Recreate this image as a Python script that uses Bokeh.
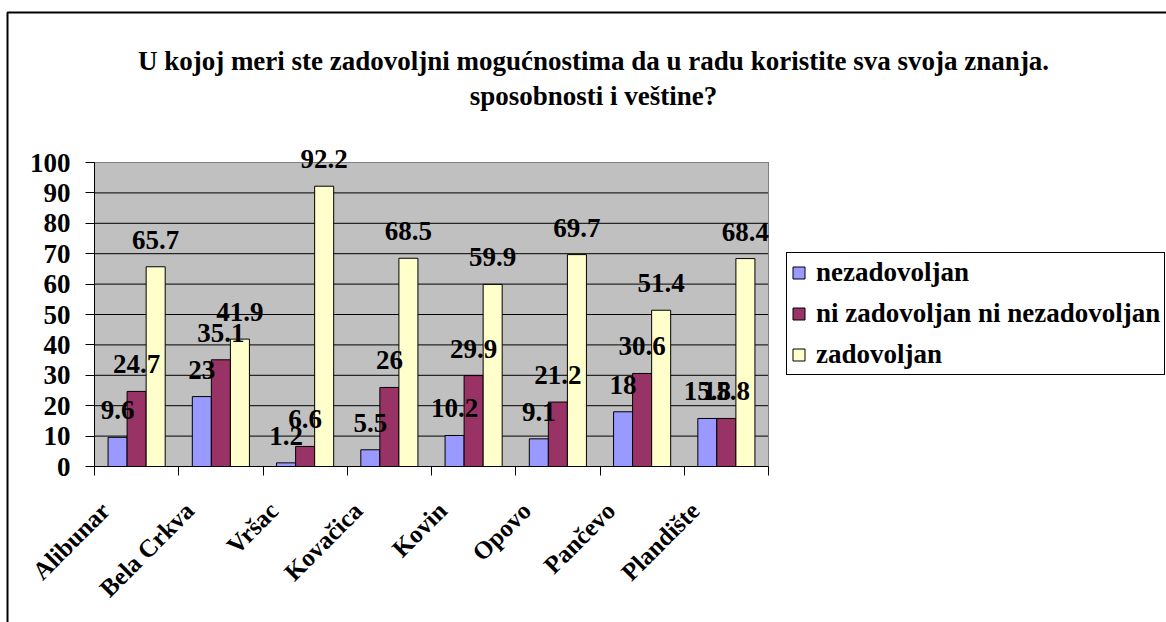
from math import pi
from bokeh.plotting import figure
from bokeh.models import (ColumnDataSource, LabelSet, Label, Legend, LegendItem,
                          FixedTicker, Range1d, BoxAnnotation)
from bokeh.embed import file_html
from bokeh.resources import INLINE

categories = ["Alibunar", "Bela Crkva", "Vršac", "Kovačica", "Kovin", "Opovo", "Pančevo", "Plandište"]
series_names = ["nezadovoljan", "ni zadovoljan ni nezadovoljan", "zadovoljan"]
nezadovoljan = [9.6, 23, 1.2, 5.5, 10.2, 9.1, 18, 15.8]
ni_ni = [24.7, 35.1, 6.6, 26, 29.9, 21.2, 30.6, 15.8]
zadovoljan = [65.7, 41.9, 92.2, 68.5, 59.9, 69.7, 51.4, 68.4]
y_ticks = [0, 10, 20, 30, 40, 50, 60, 70, 80, 90, 100]
title_lines = ["U kojoj meri ste zadovoljni mogućnostima da u radu koristite sva svoja znanja.",
               "sposobnosti i veštine?"]

colors = ["#9999FF", "#993366", "#FFFFCC"]
offsets = [-0.226, 0.0, 0.226]
bar_w = 0.226
FONT = "Liberation Serif"
FS = "27px"

W, H = 1166, 622
# pixel geometry of the plot area (gray box) in canvas pixels
PX_L, PX_R, PX_T, PX_B = 94, 768, 162, 466
n = len(categories)
sx = (PX_R - PX_L) / n          # px per category
sy = (PX_B - PX_T) / 100.0      # px per unit


def dx(px):
    return (px - PX_L) / sx


def dy(py):
    return (PX_B - py) / sy


p = figure(width=W, height=H, output_backend="svg", toolbar_location=None,
           x_range=Range1d(dx(0), dx(W)), y_range=Range1d(dy(H), dy(0)),
           min_border=0, min_border_left=0, min_border_right=0,
           min_border_top=0, min_border_bottom=0)
p.background_fill_color = "white"
p.border_fill_color = "white"
p.outline_line_color = None
p.xgrid.visible = False
p.ygrid.visible = False

# gray plot area
p.quad(left=[0], right=[n], bottom=[0], top=[100], fill_color="#C0C0C0", line_color=None)
# horizontal gridlines
p.segment(x0=[0] * len(y_ticks), x1=[n] * len(y_ticks), y0=y_ticks, y1=y_ticks,
          line_color="black", line_width=1)

centers = [i + 0.5 for i in range(n)]
items = []
for k, vals in enumerate([nezadovoljan, ni_ni, zadovoljan]):
    src = ColumnDataSource(dict(x=[c + offsets[k] for c in centers], top=vals,
                                label=[f"{v:g}" for v in vals]))
    r = p.vbar(x="x", top="top", width=bar_w, bottom=0, source=src,
               fill_color=colors[k], line_color="black", line_width=1)
    items.append(LegendItem(label=series_names[k], renderers=[r]))
    p.add_layout(LabelSet(x="x", y="top", text="label", source=src, y_offset=18,
                          text_align="center", text_baseline="alphabetic",
                          text_font=FONT, text_font_style="bold", text_font_size=FS,
                          text_color="black"))

# gray outline of plot area (top / right)
p.quad(left=[0], right=[n], bottom=[0], top=[100], fill_color=None,
       line_color="#808080", line_width=1)

# axes drawn at fixed data locations
p.yaxis.fixed_location = 0
p.yaxis.bounds = (0, 100)
p.yaxis.ticker = FixedTicker(ticks=y_ticks)
p.yaxis.major_tick_in = 0
p.yaxis.major_tick_out = 9
p.yaxis.minor_tick_line_color = None
p.yaxis.axis_line_color = "black"
p.yaxis.major_label_standoff = 15
p.yaxis.major_label_text_font = FONT
p.yaxis.major_label_text_font_style = "bold"
p.yaxis.major_label_text_font_size = FS
p.yaxis.major_label_text_color = "black"

# rotated category labels sit a little left of each group's centre
label_pos = [c - 0.37 for c in centers]
p.xaxis.fixed_location = 0
p.xaxis.bounds = (0, n)
p.xaxis.ticker = FixedTicker(ticks=label_pos, minor_ticks=list(range(n + 1)))
p.xaxis.major_label_overrides = {c: name for c, name in zip(label_pos, categories)}
p.xaxis.major_tick_line_color = None
p.xaxis.minor_tick_in = 0
p.xaxis.minor_tick_out = 9
p.xaxis.minor_tick_line_color = "black"
p.xaxis.axis_line_color = "black"
p.xaxis.major_label_orientation = pi / 4
p.xaxis.major_label_standoff = 31
p.xaxis.major_label_text_font = FONT
p.xaxis.major_label_text_font_style = "bold"
p.xaxis.major_label_text_font_size = "25px"
p.xaxis.major_label_text_color = "black"

legend = Legend(items=items, location=(786, H - 375))
legend.border_line_color = "black"
legend.border_line_alpha = 1
legend.border_line_width = 1
legend.background_fill_color = "white"
legend.background_fill_alpha = 1
legend.label_text_font = FONT
legend.label_text_font_style = "bold"
legend.label_text_font_size = FS
legend.label_text_color = "black"
legend.glyph_width = 15
legend.glyph_height = 15
legend.label_standoff = 10
legend.padding = 4
legend.spacing = 10
legend.margin = 0
p.add_layout(legend, "center")

# title (two centered lines)
for line, yb in zip(title_lines, [60, 95]):
    p.add_layout(Label(x=dx(593), y=dy(yb), text=line, text_align="center",
                       text_baseline="alphabetic", text_font=FONT,
                       text_font_style="bold", text_font_size=FS, text_color="black"))

# outer chart border
p.add_layout(BoxAnnotation(left=dx(7), right=dx(W + 40), top=dy(12), bottom=dy(H + 40),
                           fill_color=None, fill_alpha=0, line_color="black",
                           line_alpha=1, line_width=2))

open("out.html", "w").write(file_html(p, INLINE))
